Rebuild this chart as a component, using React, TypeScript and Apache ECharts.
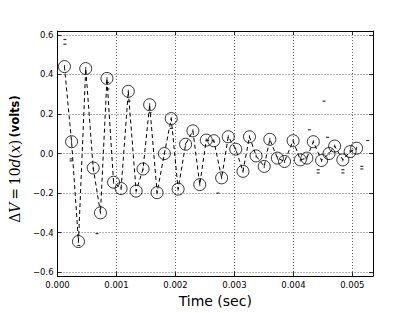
import { useEffect, useRef } from 'react';
import * as echarts from 'echarts';

// Time of each sample (sec)
const times = [
  0.000117, 0.000238, 0.000355, 0.000478, 0.000605, 0.000728, 0.000838, 0.00095,
  0.001078, 0.0012, 0.001333, 0.00145, 0.001562, 0.001688, 0.001812, 0.001928,
  0.002045, 0.002172, 0.002295, 0.002412, 0.002522, 0.00265, 0.002783, 0.002895,
  0.003022, 0.003145, 0.003255, 0.003367, 0.003505, 0.0036, 0.003728, 0.00385,
  0.003995, 0.004117, 0.004228, 0.004338, 0.004478, 0.004605, 0.0047, 0.004838,
  0.004962, 0.005072,
];
// Delta V (volts) at each sample
const volts = [
  0.44, 0.06, -0.445, 0.43, -0.073, -0.3, 0.38, -0.145,
  -0.177, 0.315, -0.19, -0.078, 0.247, -0.198, 0.0, 0.177,
  -0.18, 0.047, 0.115, -0.157, 0.068, 0.065, -0.123, 0.085,
  0.022, -0.09, 0.085, -0.012, -0.065, 0.072, -0.023, -0.04,
  0.065, -0.032, -0.023, 0.06, -0.035, 0.0, 0.038, -0.032,
  0.01, 0.027,
];
// Loose raw readings (small marks)
const rawTimes = [
  0.000125, 0.000125, 0.00023, 0.00023, 0.00036, 0.00067, 0.000855, 0.000845,
  0.00121, 0.00157, 0.00193, 0.00272, 0.00427, 0.00452, 0.00458, 0.00526,
  0.00442, 0.00442, 0.00484, 0.00484, 0.00516, 0.00516,
];
const rawVolts = [
  0.577, 0.553, -0.027, -0.037, -0.465, -0.405, 0.327, 0.36,
  0.265, 0.207, 0.127, -0.2, 0.12, 0.265, 0.082, 0.066,
  -0.082, -0.098, -0.082, -0.098, -0.065, -0.078,
];

const xMin = 0;
const xMax = 0.00535;
const yMin = -0.62;
const yMax = 0.62;

const FONT = 'DejaVu Sans';

function fmtX(v: number) {
  if (Math.abs(v * 1000 - Math.round(v * 1000)) > 1e-6) return '';
  return v.toFixed(3);
}
function fmtY(v: number) {
  if (Math.abs(v * 5 - Math.round(v * 5)) > 1e-6) return '';
  const s = Math.abs(v).toFixed(1);
  return v < -1e-9 ? '\u2212' + s : s;
}

export default function App() {
  const ref = useRef<HTMLDivElement>(null);
  useEffect(() => {
    const chart = echarts.init(ref.current!, null, { renderer: 'svg' });
    const lineData = times.map((t, i) => [t, volts[i]]);
    const rawData = rawTimes.map((t, i) => [t, rawVolts[i]]);
    const axisLine = { show: true, onZero: false, lineStyle: { color: '#000', width: 1 } };
    const tick = { show: true, inside: true, length: 4, lineStyle: { color: '#000', width: 0.8 } };
    chart.setOption({
      animation: false,
      backgroundColor: '#fff',
      grid: { left: 53, right: 42, top: 31, bottom: 32, containLabel: false },
      xAxis: [
        {
          type: 'value', min: xMin, max: xMax, interval: 0.001, position: 'bottom',
          axisLine, axisTick: tick,
          axisLabel: { formatter: fmtX, fontSize: 8.5, color: '#000', fontFamily: FONT, margin: 4 },
          splitLine: { show: true, lineStyle: { type: [1, 2], color: '#000', width: 0.6 } },
          name: 'Time (sec)', nameLocation: 'middle', nameGap: 11,
          nameTextStyle: { fontSize: 14, fontFamily: FONT, color: '#000' },
        },
        {
          type: 'value', min: xMin, max: xMax, interval: 0.001, position: 'top',
          axisLine, axisTick: tick, axisLabel: { show: false }, splitLine: { show: false },
        },
      ],
      yAxis: [
        {
          type: 'value', min: yMin, max: yMax, position: 'left',
          axisLine, axisTick: tick,
          axisLabel: { formatter: fmtY, fontSize: 8.5, color: '#000', fontFamily: FONT, margin: 4 },
          splitLine: { show: true, lineStyle: { type: [1, 2], color: '#000', width: 0.6 } },
          name: '{u|\u0394}{i|V}{u|\u2009=\u200910}{i|d}{u|(}{i|x}{u|)}{s| }{b|(volts)}',
          nameLocation: 'middle', nameGap: 25,
          nameTextStyle: {
            color: '#000',
            padding: [0, 11, 0, 0],
            rich: {
              u: { fontFamily: 'DejaVu Serif', fontSize: 14, color: '#000' },
              i: { fontFamily: 'DejaVu Serif', fontStyle: 'italic', fontSize: 14, color: '#000' },
              s: { fontSize: 8 },
              b: { fontFamily: FONT, fontWeight: 'bold', fontSize: 11.5, color: '#000' },
            },
          },
        },
        {
          type: 'value', min: yMin, max: yMax, position: 'right',
          axisLine, axisTick: tick, axisLabel: { show: false }, splitLine: { show: false },
        },
      ],
      series: [
        {
          type: 'line', xAxisIndex: 0, yAxisIndex: 0, data: lineData,
          symbol: 'circle', symbolSize: 12,
          lineStyle: { color: '#000', width: 1, type: [4, 3] },
          itemStyle: { color: 'rgba(0,0,0,0)', borderColor: '#000', borderWidth: 0.8 },
          z: 3,
        },
        {
          type: 'scatter', xAxisIndex: 0, yAxisIndex: 0, data: lineData,
          symbol: 'rect', symbolSize: [1, 3],
          itemStyle: { color: '#000' }, z: 4,
        },
        {
          type: 'scatter', xAxisIndex: 0, yAxisIndex: 0, data: rawData,
          symbol: 'rect', symbolSize: [3, 1.2],
          itemStyle: { color: '#000' }, z: 4,
        },
      ],
    });
    return () => chart.dispose();
  }, []);
  return <div ref={ref} style={{ position: 'fixed', left: 0, top: 0, width: 415, height: 313 }} />;
}
